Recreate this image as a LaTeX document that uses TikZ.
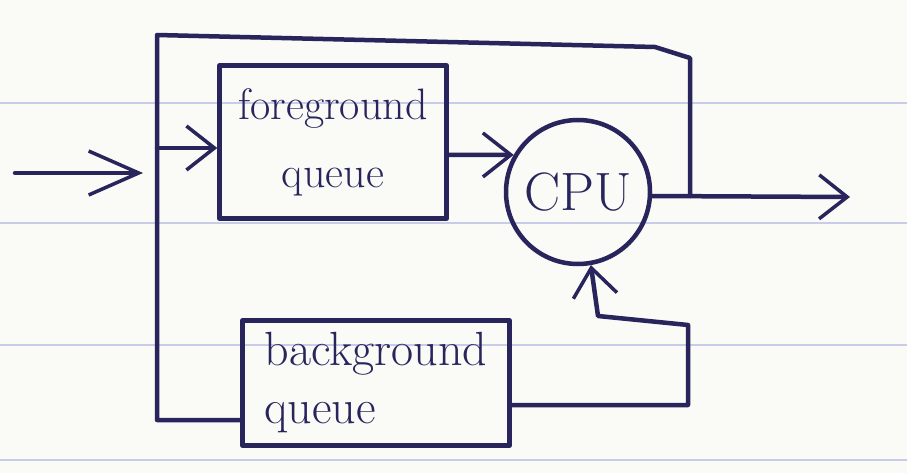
\documentclass[tikz,border=0pt]{standalone}
\usetikzlibrary{arrows.meta,positioning}
\definecolor{inkc}{RGB}{40,36,92}
\definecolor{paperc}{RGB}{250,250,246}
\definecolor{rulec}{RGB}{200,204,232}

\begin{document}
\begin{tikzpicture}[x=1pt,y=-1pt,
    ink/.style={draw=inkc,line width=4.5pt,line cap=round,line join=round},
    qbox/.style={ink,rectangle,inner sep=0pt,text=inkc},
    barb/.style={-{Straight Barb[length=28pt,width=44pt,line width=3.5pt]}},
    longbarb/.style={-{Straight Barb[length=50pt,width=44pt,line width=3.5pt]}}]
            \useasboundingbox (0,0) rectangle (907,473);
            \fill[paperc] (0,0) rectangle (907,473);
            \begin{scope}[draw=rulec,line width=2pt]
              \foreach \y in {103,223,345,460}
                \draw (0,\y) -- (907,\y);
            \end{scope}

            \node[qbox,minimum width=227pt,minimum height=153pt,align=center,
                  font=\fontsize{44}{68}\selectfont]
              (fgq) at (333,142) {foreground\\queue};
            \node[qbox,minimum width=267pt,minimum height=125pt,align=left,
                  font=\fontsize{48}{58}\selectfont]
              (bgq) at (376,383) {background\\queue};
            \node[ink,circle,minimum size=144pt,inner sep=0pt,
                  font=\fontsize{54}{58}\selectfont,text=inkc]
              (cpu) at (578,192) {CPU};

            \coordinate (in) at (15,173);
            \coordinate (inend) at (143,173);
            \coordinate (bustop) at (157,35);
            \coordinate (busbot) at (157,420);
            \coordinate (branch) at (157,148);
            \coordinate (tap) at (690,196);
            \coordinate (out) at (850,197);
            \coordinate (bgr) at (688,405);
            \coordinate (bgup) at (688,325);
            \coordinate (bgturn) at (598,316);

            \begin{scope}[ink]
              \draw[longbarb] (in) -- (inend);
              \draw[barb] (branch) -- (branch -| fgq.west);
              \draw[barb] ([yshift=-13pt]fgq.east) -- (cpu.150);
              \draw[barb] (cpu.east |- tap) -- (out);
              \draw (tap) -- (690,58) -- (655,47) -- (bustop) -- (busbot)
                -- (busbot -| bgq.west);
              \draw[barb] ([yshift=-22pt]bgq.east) -- (bgr) -- (bgup)
                -- (bgturn) -- (cpu.-80);
            \end{scope}
          \end{tikzpicture}
\end{document}
